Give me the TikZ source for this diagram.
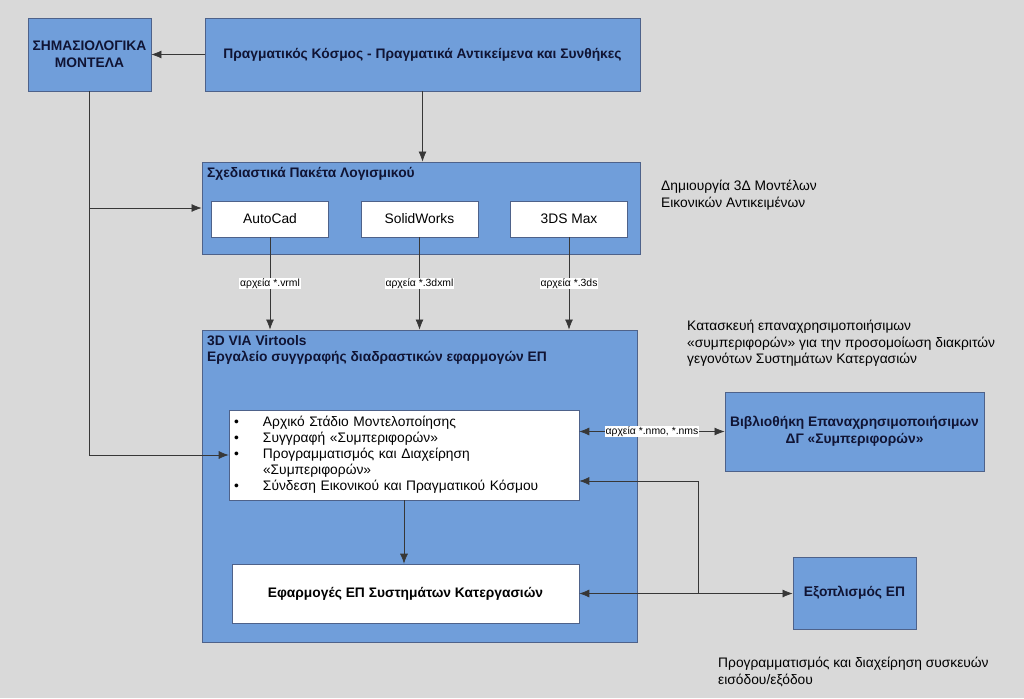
\documentclass[tikz,border=0pt]{standalone}
\usepackage{fontspec}
\setmainfont{Liberation Sans}
\usepackage{tikz}
\usetikzlibrary{positioning,arrows.meta}

\definecolor{pagegray}{RGB}{217,217,217}
\definecolor{boxblue}{RGB}{112,158,218}
\definecolor{boxline}{RGB}{78,98,138}
\definecolor{titletext}{RGB}{16,20,52}
\definecolor{linegray}{RGB}{55,55,55}

\begin{document}
\begin{tikzpicture}[
    x=1pt, y=-1pt,                                   % one unit = one pixel, y going down
    bluebox/.style={draw=boxline, fill=boxblue, line width=0.8pt, align=center,
        inner sep=0pt, text=titletext, font=\bfseries\fontsize{13.8}{17}\selectfont},
    whitebox/.style={draw=boxline, fill=white, line width=0.6pt, align=center,
        inner sep=0pt, font=\fontsize{13.8}{16}\selectfont},  % white boxes inside
    boxtitle/.style={anchor=west, align=left, inner sep=0pt, text=titletext,
        font=\bfseries\fontsize{13.8}{16}\selectfont},
    filelabel/.style={fill=white, inner sep=0.6pt, font=\fontsize{10.4}{12}\selectfont},
    note/.style={anchor=west, align=left, inner sep=0pt, font=\fontsize{13.8}{16.5}\selectfont},
    link/.style={draw=linegray, line width=0.7pt},   % connectors
    >={Latex[length=10pt,width=8pt]}                 % arrowhead style
    ]

    % page
    \fill[pagegray] (0,0) rectangle (1024,698);
    \useasboundingbox (0,0) rectangle (1024,698);

    % top row
    \node[bluebox, minimum width=123pt, minimum height=73pt] (sem) at (89.5,54.5) {ΣΗΜΑΣΙΟΛΟΓΙΚΑ\\ΜΟΝΤΕΛΑ};
    \node[bluebox, minimum width=435pt, minimum height=73pt] (real) at (422.5,54.5) {Πραγματικός Κόσμος - Πραγματικά Αντικείμενα και Συνθήκες};

    % software packages
    \node[bluebox, minimum width=438pt, minimum height=92pt] (pack) at (421,208) {};
    \node[boxtitle] (packtitle) at (207,174) {Σχεδιαστικά Πακέτα Λογισμικού};
    \node[whitebox, minimum width=117pt, minimum height=36pt] (autocad) at (270,219) {AutoCad};
    \node[whitebox, minimum width=117pt, minimum height=36pt] (solid) at (419.5,219) {SolidWorks};
    \node[whitebox, minimum width=117pt, minimum height=36pt] (max) at (569,219) {3DS Max};

    % Virtools
    \node[bluebox, minimum width=435pt, minimum height=312pt] (vr) at (419.5,486) {};
    \node[boxtitle] (vrtitle) at (207,349.5) {3D VIA Virtools\\Εργαλείο συγγραφής διαδραστικών εφαρμογών ΕΠ};
    \node[whitebox, minimum width=350pt, minimum height=90pt, text width=340pt, align=left] (list) at (404,455)
        {\begin{tabular}{@{}p{29pt}@{}l@{}}
          \textbullet & Αρχικό Στάδιο Μοντελοποίησης\\
          \textbullet & Συγγραφή «Συμπεριφορών»\\
          \textbullet & Προγραμματισμός και Διαχείρηση\\
                      & «Συμπεριφορών»\\
          \textbullet & Σύνδεση Εικονικού και Πραγματικού Κόσμου
        \end{tabular}};
    \node[whitebox, minimum width=347pt, minimum height=59pt, font=\bfseries\fontsize{13.8}{16}\selectfont] (app) at (405.5,593.5) {Εφαρμογές ΕΠ Συστημάτων Κατεργασιών};

    % right side
    \node[bluebox, minimum width=259pt, minimum height=79pt] (lib) at (854.5,431.5) {Βιβλιοθήκη Επαναχρησιμοποιήσιμων\\ΔΓ «Συμπεριφορών»};
    \node[bluebox, minimum width=123pt, minimum height=72pt] (equip) at (854.5,593) {Εξοπλισμός ΕΠ};

    % notes
    \node[note] (packnote) at (661,195) {Δημιουργία 3Δ Μοντέλων\\Εικονικών Αντικειμένων};
    \node[note] (vrnote) at (687,343.5) {Κατασκευή επαναχρησιμοποιήσιμων\\«συμπεριφορών» για την προσομοίωση διακριτών\\γεγονότων Συστημάτων Κατεργασιών};
    \node[note] (equipnote) at (718,672) {Προγραμματισμός και διαχείρηση συσκευών\\εισόδου/εξόδου};

    % connectors
    \draw[link, ->] (real.west) -- (sem.east);
    \draw[link, ->] (real.south) -- (real.south |- pack.north);
    \draw[link, ->] (sem.south) |- (list.west);
    \draw[link, ->] (sem.south |- pack.west) -- (pack.west);

    % file exchange
    \draw[link, ->] (autocad.south) -- node[filelabel] {αρχεία *.vrml} (autocad.south |- vr.north);
    \draw[link, ->] (solid.south) -- node[filelabel] {αρχεία *.3dxml} (solid.south |- vr.north);
    \draw[link, ->] (max.south) -- node[filelabel] {αρχεία *.3ds} (max.south |- vr.north);
    \draw[link, <->] (list.east |- lib.west) -- node[filelabel] {αρχεία *.nmo, *.nms} (lib.west);

    \draw[link, ->] (list.south) -- (list.south |- app.north);

    % equipment links
    \coordinate (split) at (698,593.5);
    \draw[link, <->] (app.east) -- (app.east -| equip.west);
    \draw[link, ->] (split) |- ([yshift=-26pt]list.east);

\end{tikzpicture}
\end{document}
